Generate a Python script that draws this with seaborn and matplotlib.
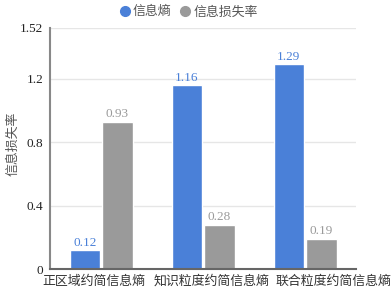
import matplotlib
matplotlib.use('Agg')
import matplotlib.pyplot as plt
import seaborn as sns
import pandas as pd

# data
categories = ['正区域约简信息熵', '知识粒度约简信息熵', '联合粒度约简信息熵']
series = ['信息熵', '信息损失率']
entropy = [0.12, 1.16, 1.29]
loss_rate = [0.93, 0.28, 0.19]
yticks = [0, 0.4, 0.8, 1.2, 1.52]

colors = ['#4a80d8', '#9a9a9a']
cjk = ['Noto Sans CJK SC', 'DejaVu Sans']

df = pd.DataFrame({
    'cat': categories * 2,
    'series': [series[0]] * 3 + [series[1]] * 3,
    'value': entropy + loss_rate,
})

sns.set_style('white')
plt.rcParams['font.family'] = ['Liberation Serif', 'Noto Sans CJK SC', 'DejaVu Sans']

fig = plt.figure(figsize=(3.92, 2.91), dpi=100)
ax = fig.add_axes([0.1276, 0.0756, 0.7806, 0.8282])

sns.barplot(data=df, x='cat', y='value', hue='series', palette=colors,
            saturation=1, width=0.64, gap=0.07, ax=ax, legend=False)

# value labels
for cont, col in zip(ax.containers, colors):
    ax.bar_label(cont, labels=[f'{v:.2f}' for v in cont.datavalues],
                 color=col, fontsize=9.5, padding=1)

ax.set_ylim(0, 1.52)
ax.set_yticks(yticks)
ax.set_yticklabels(['0', '0.4', '0.8', '1.2', '1.52'], fontsize=9.5, color='#222222')
ax.set_xlim(-0.5, 2.5)
# category labels sit slightly off the group centres in the original
ax.set_xticks([-0.07, 1.08, 2.28])
ax.set_xticklabels(categories, fontsize=9.3, family=cjk)
ax.tick_params(axis='x', length=0, pad=4, colors='#333333')
ax.tick_params(axis='y', length=3, width=1, color='#777777', pad=2)
ax.yaxis.grid(True, color='#e6e6e6', linewidth=1)
ax.set_axisbelow(True)
ax.set_xlabel('')
ax.set_ylabel('信息损失率', fontsize=9.3, color='#555555', family=cjk)
ax.yaxis.set_label_coords(-0.1, 0.52)

for s in ['top', 'right']:
    ax.spines[s].set_visible(False)
ax.spines['left'].set_color('#888888')
ax.spines['left'].set_linewidth(1.5)
ax.spines['bottom'].set_color('#666666')
ax.spines['bottom'].set_linewidth(1.5)

# legend at the top
handles = [plt.Line2D([], [], marker='o', linestyle='', markersize=7,
                      markerfacecolor=c, markeredgecolor=c) for c in colors]
fig.legend(handles, series, loc='center', bbox_to_anchor=(0.481, 0.959),
           ncol=2, frameon=False, handlelength=0.8, handletextpad=0.2,
           columnspacing=0.7, labelcolor='#555555',
           prop={'family': cjk, 'size': 9.3})

fig.savefig('out.png', dpi=100)
